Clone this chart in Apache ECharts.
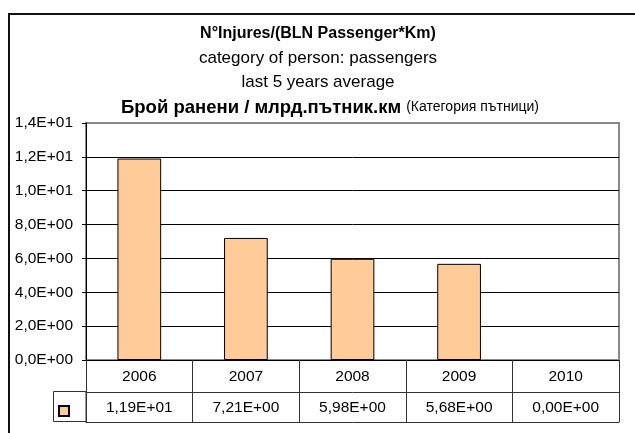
<!DOCTYPE html>
<html>
<head>
<meta charset="utf-8">
<script src="https://cdn.jsdelivr.net/npm/echarts@6/dist/echarts.min.js"></script>
<style>
  html, body { margin: 0; padding: 0; background: #fff; }
  #chart { width: 635px; height: 433px; }
</style>
</head>
<body>
<div id="chart"></div>
<script>
const years = ['2006', '2007', '2008', '2009', '2010'];
const injures = [11.9, 7.21, 5.98, 5.68, 0];
const titleLines = ['N°Injures/(BLN Passenger*Km)', 'category of person: passengers', 'last 5 years average'];
const subtitleBold = 'Брой ранени / млрд.пътник.км';
const subtitleNote = '(Категория пътници)';

const font = '"Liberation Sans", Arial, sans-serif';

// 1,4E+01 style (comma decimal, two digit exponent)
const sci = (v, digits) => {
  const parts = Number(v).toExponential(digits).split('e');
  const exp = parseInt(parts[1], 10);
  return parts[0].replace('.', ',') + 'E' + (exp < 0 ? '-' : '+') + String(Math.abs(exp)).padStart(2, '0');
};

const chart = echarts.init(document.getElementById('chart'));

const titleTops = [26, 50, 74];
const titleSizes = [16, 17, 17];

chart.setOption({
  animation: false,
  backgroundColor: '#fff',
  title: titleLines.map((t, i) => ({
    text: t,
    left: 318,
    top: titleTops[i],
    textAlign: 'center',
    padding: 0,
    textStyle: { fontFamily: font, fontSize: titleSizes[i], fontWeight: i === 0 ? 'bold' : 'normal', color: '#000' }
  })).concat([{
    text: '{b|' + subtitleBold + '} {n|' + subtitleNote + '}',
    left: 330,
    top: 98,
    textAlign: 'center',
    padding: 0,
    textStyle: {
      rich: {
        b: { fontFamily: font, fontSize: 18.5, fontWeight: 'bold', color: '#000' },
        n: { fontFamily: font, fontSize: 14, fontWeight: 'normal', color: '#000' }
      }
    }
  }]),
  legend: {
    left: 58, top: 405,
    itemWidth: 10, itemHeight: 10,
    icon: 'rect',
    padding: 0,
    formatter: () => '',
    selectedMode: false,
    data: ['injures']
  },
  grid: {
    left: 86, right: 16, top: 123, bottom: 73,
    show: true, borderColor: '#8a8a8a', borderWidth: 2
  },
  xAxis: [
    {
      type: 'category', data: years, position: 'bottom',
      axisLine: { lineStyle: { color: '#000', width: 1 } },
      axisTick: { show: true, length: 62, lineStyle: { color: '#333', width: 1 } },
      axisLabel: { margin: 9, fontFamily: font, fontSize: 15.5, color: '#000' }
    },
    {
      type: 'category', data: years, position: 'bottom', offset: 32,
      axisLine: { lineStyle: { color: '#333', width: 1 } },
      axisTick: { show: false },
      axisLabel: { margin: 8, fontFamily: font, fontSize: 15.5, color: '#000', formatter: (val, idx) => sci(injures[idx], 2) }
    },
    {
      type: 'category', data: years, position: 'bottom', offset: 62,
      axisLine: { lineStyle: { color: '#333', width: 1 } },
      axisTick: { show: false },
      axisLabel: { show: false }
    }
  ],
  yAxis: {
    type: 'value', min: 0, max: 14, interval: 2,
    axisLine: { show: true, lineStyle: { color: '#000', width: 1 } },
    axisTick: { show: true, length: 4, lineStyle: { color: '#000' } },
    axisLabel: { margin: 13, fontFamily: font, fontSize: 15.5, color: '#000', formatter: v => sci(v, 1) },
    splitLine: { lineStyle: { color: ['#000', '#000', '#000', '#000', '#000', '#000', '#000', '#8a8a8a'], width: 1 } }
  },
  series: [{
    name: 'injures',
    type: 'bar',
    data: injures.map(v => (v === 0 ? { value: v, itemStyle: { borderWidth: 0 } } : v)),
    barWidth: '41%',
    itemStyle: { color: '#FFCC99', borderColor: '#000', borderWidth: 1 }
  }],
  graphic: [
    { type: 'polyline', shape: { points: [[9, 433], [9, 14], [635, 14]] }, style: { stroke: '#111', lineWidth: 2, fill: null } },
    { type: 'rect', shape: { x: 53.5, y: 391.5, width: 32.5, height: 30 }, style: { stroke: '#333', lineWidth: 1, fill: null } }
  ]
});
</script>
</body>
</html>
